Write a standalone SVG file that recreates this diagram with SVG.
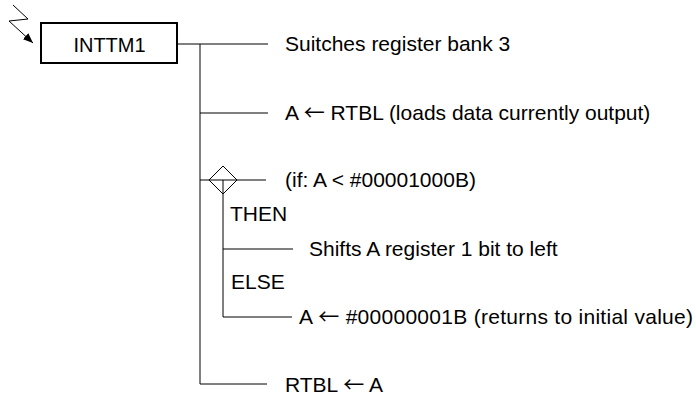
<svg xmlns="http://www.w3.org/2000/svg" width="696" height="398" viewBox="0 0 696 398">
<style>
.t{font-family:"Liberation Sans",Arial,sans-serif;font-size:21px;fill:#000}
.ar{font-family:"Noto Sans CJK JP","Noto Sans CJK SC",sans-serif;font-size:21px}
.l{stroke:#000;stroke-width:1;fill:none}
</style>
<defs>
<marker id="ah" viewBox="0 0 10 10" refX="10" refY="5" markerWidth="10" markerHeight="10" markerUnits="userSpaceOnUse" orient="auto">
<path d="M0,1 L10,5 L0,9 Z" fill="#000"/>
</marker>
</defs>
<rect width="696" height="398" fill="#fff"/>
<g id="interrupt">
<polyline class="l" points="13,5 28,19 9,21 33,43" marker-end="url(#ah)"/>
</g>
<g id="node-inttm1">
<rect x="41" y="23" width="136" height="40" fill="#fff" stroke="#000" stroke-width="2"/>
<text class="t" x="109.5" y="51.5" text-anchor="middle" style="font-size:20px">INTTM1</text>
</g>
<g id="connectors">
<line class="l" x1="177" y1="44" x2="268" y2="44"/>
<line class="l" x1="200" y1="44" x2="200" y2="384"/>
<line class="l" x1="200" y1="113" x2="268" y2="113"/>
<line class="l" x1="200" y1="180" x2="266" y2="180"/>
<line class="l" x1="223" y1="180" x2="223" y2="317"/>
<line class="l" x1="223" y1="249" x2="293" y2="249"/>
<line class="l" x1="223" y1="317" x2="292" y2="317"/>
<line class="l" x1="200" y1="384" x2="267" y2="384"/>
</g>
<g id="node-bank">
<text class="t" x="285" y="51">Suitches register bank 3</text>
</g>
<g id="node-load">
<text class="t" x="285" y="120">A <tspan class="ar">←</tspan> RTBL (loads data currently output)</text>
</g>
<g id="node-if">
<polygon class="l" points="223,166 237,180 223,194 209,180"/>
<text class="t" x="285" y="187">(if: A &lt; #00001000B)</text>
</g>
<g id="label-then">
<text class="t" x="230" y="221">THEN</text>
</g>
<g id="node-shift">
<text class="t" x="309" y="256">Shifts A register 1 bit to left</text>
</g>
<g id="label-else">
<text class="t" x="231" y="289">ELSE</text>
</g>
<g id="node-init">
<text class="t" x="299" y="324" textLength="394">A <tspan class="ar">←</tspan> #00000001B (returns to initial value)</text>
</g>
<g id="node-store">
<text class="t" x="285" y="392">RTBL <tspan class="ar">←</tspan> A</text>
</g>
</svg>
